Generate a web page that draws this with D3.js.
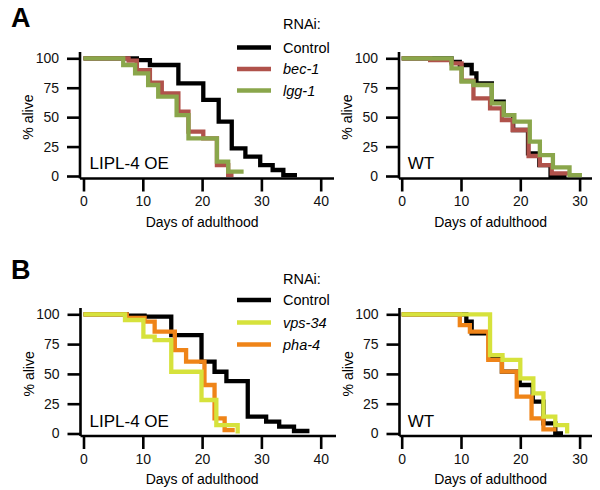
<!DOCTYPE html>
<html><head><meta charset="utf-8">
<script src="https://cdn.jsdelivr.net/npm/d3@7"></script>
<style>body{margin:0;background:#fff}svg{display:block;font-family:Arial,"Liberation Sans",sans-serif}</style>
</head><body>
<script>
// ---- data: [day, % alive] step points ----
const a_oe_control = [[0,100],[9.0,98.5],[11.2,94.3],[16.0,78.7],[20.2,64.6],[22.8,46.2],[25.0,23.5],[27.3,16.4],[29.8,9.3],[31.9,5.1],[33.7,0.8],[36.0,0.8]];
const a_oe_bec1    = [[0,100],[7.6,98],[9.0,90],[11.2,79.3],[13.2,70.2],[16.0,54.7],[17.7,37.7],[20.2,32],[22.5,9.3],[24.4,1],[25.3,1]];
const a_oe_lgg1    = [[0,100],[6.7,94.3],[8.7,87.2],[10.9,77.3],[12.6,67.4],[15.7,51.8],[17.7,32],[22.5,12.2],[24.4,3.7],[27.0,3.7]];
const a_wt_control = [[0,100],[8.4,97],[9.8,94.3],[11.8,87.2],[12.6,78.7],[15.2,63.2],[17.2,51.8],[18.8,39.1],[21.3,19.3],[23.2,9.3],[25.1,0],[27.8,0]];
const a_wt_bec1    = [[0,100],[4.8,98.5],[8.4,95.7],[10.1,81],[12.1,66],[14.9,57.5],[16.9,47.6],[18.7,39.1],[21.4,17],[23.3,9.3],[25.3,2.3],[28.4,2.3]];
const a_wt_lgg1    = [[0,100],[8.4,91.5],[10.1,80.3],[12.1,77.3],[15.2,61.7],[17.2,51.8],[19.0,46.2],[21.6,29.2],[23.3,17.8],[25.5,7.4],[28.3,0.8],[30.4,0.8]];

const b_oe_control = [[0,100],[7.3,98.8],[10.3,98],[14.8,82.6],[19.9,60.3],[22.1,51.8],[24.1,44],[27.7,14.1],[30.8,9.9],[33.0,5.7],[35.5,2.1],[38.1,2.1]];
const b_oe_pha4    = [[0,100],[7.3,97],[10.3,93.8],[12.0,85.4],[15.4,70],[17.3,60.3],[20.4,40.7],[22.1,12.7],[23.8,2.9],[25.5,2.9]];
const b_oe_vps34   = [[0,100],[7.0,95.2],[10.1,81.2],[12.0,78.4],[14.8,51.8],[19.9,28.1],[22.4,7.1],[26.0,0]];
const b_wt_control = [[0,100],[10.9,93.8],[11.8,84],[14.7,63.5],[16.9,51.9],[19.9,40.7],[22.1,26.7],[23.9,8.5],[25.9,0],[27.2,0]];
const b_wt_pha4    = [[0,100],[9.8,91],[11.5,85.4],[14.6,61.7],[16.9,51.9],[19.4,30.9],[21.9,12.7],[23.9,3.5],[26.1,3.5]];
const b_wt_vps34   = [[0,100],[14.9,65.8],[17.0,61.7],[20.0,46.3],[22.2,33.6],[23.9,14.1],[25.9,7.1],[27.9,0]];

const yTicks = [0,25,50,75,100];
const xTicksOE = [0,10,20,30,40];
const xTicksWT = [0,10,20,30];
const legendA = ["Control","bec-1","lgg-1"];
const legendB = ["Control","vps-34","pha-4"];
const colA = ["#000000","#b0524b","#8aa64b"];
const colB = ["#000000","#d6e23c","#ef8418"];

const W=600,H=490;
const svg=d3.select("body").append("svg").attr("width",W).attr("height",H);

function panel(o){
  const g=svg.append("g");
  const x=d3.scaleLinear().domain([0,o.xmax]).range([o.x0,o.x0+o.xmax*5.93]);
  const y=d3.scaleLinear().domain([0,100]).range([o.y0,o.y100]);
  // axes
  const ya=g.append("g").attr("transform",`translate(${o.ax},0)`)
    .call(d3.axisLeft(y).tickValues(yTicks).tickSize(13).tickSizeOuter(0).tickPadding(8));
  ya.select(".domain").attr("d",`M0,${o.axY}V${o.yTop}`);
  const xa=g.append("g").attr("transform",`translate(0,${o.axY})`)
    .call(d3.axisBottom(x).tickValues(o.xt).tickSize(13).tickSizeOuter(0).tickPadding(5));
  xa.select(".domain").attr("d",`M${o.ax},0H${o.xEnd}`);
  g.selectAll(".domain").attr("stroke","#000").attr("stroke-width",2.6);
  g.selectAll(".tick line").attr("stroke","#000").attr("stroke-width",2.6);
  g.selectAll(".tick text").attr("font-size",14).attr("fill","#111").attr("font-family","Arial, 'Liberation Sans', sans-serif");
  // titles
  g.append("text").attr("x",(o.x0+x(o.xt[o.xt.length-1]))/2).attr("y",o.axY+48).attr("text-anchor","middle")
    .attr("font-size",14).text("Days of adulthood");
  g.append("text").attr("transform",`translate(${o.ax-47},${(o.y0+o.y100)/2}) rotate(-90)`).attr("text-anchor","middle")
    .attr("font-size",14).text("% alive");
  g.append("text").attr("x",o.x0+(o.lx||6)).attr("y",o.y0-7).attr("font-size",o.lfs||17).text(o.label);
  const line=d3.line().x(d=>x(d[0])).y(d=>y(d[1])).curve(d3.curveStepAfter);
  o.series.forEach((s,i)=>{
    g.append("path").datum(s).attr("d",line).attr("fill","none").attr("stroke",o.cols[i])
      .attr("stroke-width",4.3).attr("stroke-linejoin","miter").attr("stroke-linecap","butt");
  });
}
function legend(x0,yTitle,yLines,names,cols){
  const g=svg.append("g");
  g.append("text").attr("x",x0+46).attr("y",yTitle).attr("font-size",14.5).text("RNAi:");
  names.forEach((n,i)=>{
    g.append("line").attr("x1",x0).attr("x2",x0+34).attr("y1",yLines[i]).attr("y2",yLines[i])
      .attr("stroke",cols[i]).attr("stroke-width",4.3);
    g.append("text").attr("x",x0+46).attr("y",yLines[i]+5).attr("font-size",14.5)
      .attr("font-style",i?"italic":"normal").text(n);
  });
}
// A
panel({xmax:40,xt:xTicksOE,x0:83.5,ax:80,xEnd:334,y0:176,y100:58.3,axY:178.5,yTop:52,label:"LIPL-4 OE",
  series:[a_oe_control,a_oe_bec1,a_oe_lgg1],cols:colA});
panel({xmax:30,xt:xTicksWT,x0:401.7,ax:399,xEnd:592,y0:176,y100:58.3,axY:178.5,yTop:52,label:"WT",
  series:[a_wt_control,a_wt_bec1,a_wt_lgg1],cols:colA});
// B
panel({xmax:40,xt:xTicksOE,x0:83.5,ax:80.5,xEnd:336,y0:433.5,y100:314.3,axY:436,yTop:308,label:"LIPL-4 OE",
  series:[b_oe_control,b_oe_pha4,b_oe_vps34],cols:[colB[0],colB[2],colB[1]]});
panel({xmax:30,xt:xTicksWT,x0:401.7,ax:399.5,xEnd:592,y0:433.5,y100:314.3,axY:436,yTop:308,label:"WT",
  series:[b_wt_control,b_wt_pha4,b_wt_vps34],cols:[colB[0],colB[2],colB[1]]});
legend(237,29,[47.5,69,90.5],legendA,colA);
legend(237,284,[300,322.5,344.5],legendB,colB);
svg.append("text").attr("x",11).attr("y",27).attr("font-size",27).attr("font-weight","bold").text("A");
svg.append("text").attr("x",11).attr("y",279).attr("font-size",27).attr("font-weight","bold").text("B");
</script>
</body></html>
